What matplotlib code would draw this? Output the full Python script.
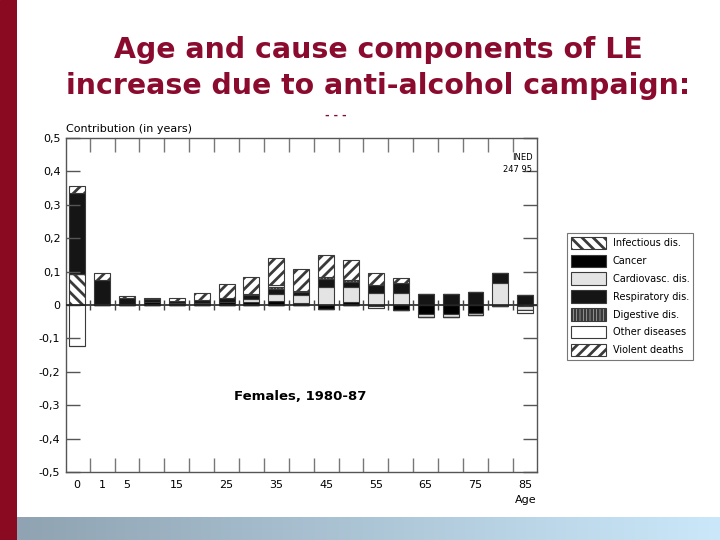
import numpy as np
import matplotlib
matplotlib.use("Agg")
import matplotlib.pyplot as plt
from matplotlib.patches import Patch, Rectangle

# age groups (start of each 5-year group, plus 0 and 1)
ages = [0, 1, 5, 10, 15, 20, 25, 30, 35, 40, 45, 50, 55, 60, 65, 70, 75, 80, 85]
shown_ages = [0, 1, 5, 15, 25, 35, 45, 55, 65, 75, 85]

causes = ["Infectious dis.", "Cancer", "Cardiovasc. dis.", "Respiratory dis.",
          "Digestive dis.", "Other diseases", "Violent deaths"]

# contributions in years, per age group
infectious = [0.093, 0.004, 0, 0, 0, 0, 0, 0, 0, 0, 0, 0, 0, 0, 0, 0, 0, 0, 0]
cancer = [0, 0, 0.004, 0.010, 0.006, 0.006, 0.008, 0.008, 0.012, 0.005, -0.012,
          0.010, -0.004, -0.014, -0.026, -0.028, -0.024, -0.004, -0.002]
cardio = [0, 0, 0, 0, 0, 0, 0.002, 0.010, 0.022, 0.025, 0.055, 0.045, 0.036,
          0.035, -0.010, -0.008, -0.006, 0.066, -0.012]
respiratory = [0.242, 0.072, 0.018, 0.008, 0.006, 0.010, 0.012, 0.012, 0.013,
               0.010, 0.022, 0.015, 0.024, 0.030, 0.033, 0.033, 0.039, 0.030, 0.030]
digestive = [0, 0, 0, 0, 0, 0, 0, 0.004, 0.008, 0.003, 0.008, 0.005, 0, 0, 0, 0, 0, 0, 0]
other = [-0.123, 0, 0, 0, 0, 0, 0, 0, 0.005, 0, 0, 0, -0.004, 0, 0, 0, 0, 0, -0.010]
violent = [0.021, 0.020, 0.006, 0.002, 0.008, 0.020, 0.041, 0.051, 0.081, 0.065,
           0.065, 0.060, 0.036, 0.016, 0, 0, 0, 0, 0]

series = [infectious, cancer, cardio, respiratory, digestive, other, violent]
styles = [
    dict(facecolor="white", hatch="\\\\\\"),
    dict(facecolor="black", hatch=None),
    dict(facecolor="#e4e4e4", hatch=None),
    dict(facecolor="#151515", hatch=None),
    dict(facecolor="#cfcfcf", hatch="|||||"),
    dict(facecolor="white", hatch=None),
    dict(facecolor="white", hatch="///"),
]

plt.rcParams["font.family"] = ["DejaVu Sans"]
plt.rcParams["hatch.linewidth"] = 2.0

fig = plt.figure(figsize=(7.2, 5.4), dpi=100)
W, H = 720.0, 540.0

# slide decoration: red band on the left, gradient band at the bottom
band = fig.add_axes([0, 0, 17 / W, 1])
band.set_axis_off()
band.add_patch(Rectangle((0, 0), 1, 1, color="#8a0a22"))
grad = fig.add_axes([17 / W, 0, 1 - 17 / W, 23 / H])
grad.set_axis_off()
g = np.linspace(0, 1, 256).reshape(1, -1)
c0 = np.array([0x8f, 0xa3, 0xb2]) / 255.0
c1 = np.array([0xca, 0xe8, 0xfa]) / 255.0
img = c0[None, None, :] * (1 - g[..., None]) + c1[None, None, :] * g[..., None]
grad.imshow(img, aspect="auto", extent=(0, 1, 0, 1))

# slide title
title_color = "#8b0b2e"
fig.text(378 / W, 1 - 50 / H, "Age and cause components of LE", ha="center", va="center",
         fontsize=20.4, weight="bold", color=title_color)
fig.text(378 / W, 1 - 86 / H, "increase due to anti-alcohol campaign:", ha="center", va="center",
         fontsize=20.4, weight="bold", color=title_color)
fig.text(336 / W, 1 - 116 / H, "- - -", ha="center", va="center",
         fontsize=8, weight="bold", color=title_color)

# chart
ax = fig.add_axes([66 / W, 1 - 472 / H, 471 / W, 334 / H])
x = np.arange(len(ages))
width = 0.64
edge = "#3a3a3a"
pos_base = np.zeros(len(ages))
neg_base = np.zeros(len(ages))
for vals, st in zip(series, styles):
    v = np.array(vals, dtype=float)
    pv = np.where(v > 0, v, 0)
    nv = np.where(v < 0, v, 0)
    ax.bar(x, pv, width, bottom=pos_base, facecolor=st["facecolor"], hatch=st["hatch"],
           edgecolor=edge, linewidth=0.8)
    ax.bar(x, nv, width, bottom=neg_base, facecolor=st["facecolor"], hatch=st["hatch"],
           edgecolor=edge, linewidth=0.8)
    pos_base += pv
    neg_base += nv

ax.axhline(0, color="#222222", linewidth=1.2, zorder=3)
bounds = np.arange(len(ages) - 1) + 0.5
ax.plot(bounds, np.zeros(len(bounds)), linestyle="none", marker="|", markersize=7,
        color="#444444", zorder=3)

ax.set_xlim(-0.45, len(ages) - 0.53)
ax.set_ylim(-0.5, 0.5)
for s in ax.spines.values():
    s.set_color("#555555")
    s.set_linewidth(1.0)

yt = np.round(np.arange(-0.5, 0.51, 0.1), 1)
ax.set_yticks(yt)
ax.set_yticklabels(["0" if t == 0 else ("%.1f" % t).replace(".", ",") for t in yt])
ax.tick_params(axis="y", direction="in", length=10, width=1, color="#555555",
               left=True, right=True, labelsize=8, pad=4)
ax.set_xticks(bounds)
ax.set_xticklabels([])
ax.tick_params(axis="x", which="major", direction="in", length=10, width=1,
               color="#777777", top=True, bottom=True)
ax.set_xticks([ages.index(a) for a in shown_ages], minor=True)
ax.set_xticklabels([str(a) for a in shown_ages], minor=True)
ax.tick_params(axis="x", which="minor", length=0, labelsize=8, pad=6)

ax.text(0, 1.028, "Contribution (in years)", transform=ax.transAxes, fontsize=8,
        ha="left", va="center")
ax.text(0.99, 0.955, "INED\n247 95", transform=ax.transAxes, fontsize=6,
        ha="right", va="top", linespacing=1.4)
fig.text(300 / W, 1 - 397 / H, "Females, 1980-87", fontsize=9.5, weight="bold",
         ha="center", va="center")
ax.text(len(ages) - 1, -0.57, "Age", fontsize=8, ha="center", va="top", clip_on=False)

handles = [Patch(facecolor=st["facecolor"], hatch=st["hatch"], edgecolor=edge,
                 linewidth=0.8, label=c) for c, st in zip(causes, styles)]
leg = fig.legend(handles=handles, loc="upper left", bbox_to_anchor=(562 / W, 1 - 228 / H),
                 fontsize=7, handlelength=3.6, handleheight=1.6, labelspacing=0.55,
                 fancybox=False, framealpha=1, borderpad=0.4, handletextpad=0.7)
leg.get_frame().set_edgecolor("#777777")
leg.get_frame().set_linewidth(0.8)

fig.savefig("out.png", dpi=100)
